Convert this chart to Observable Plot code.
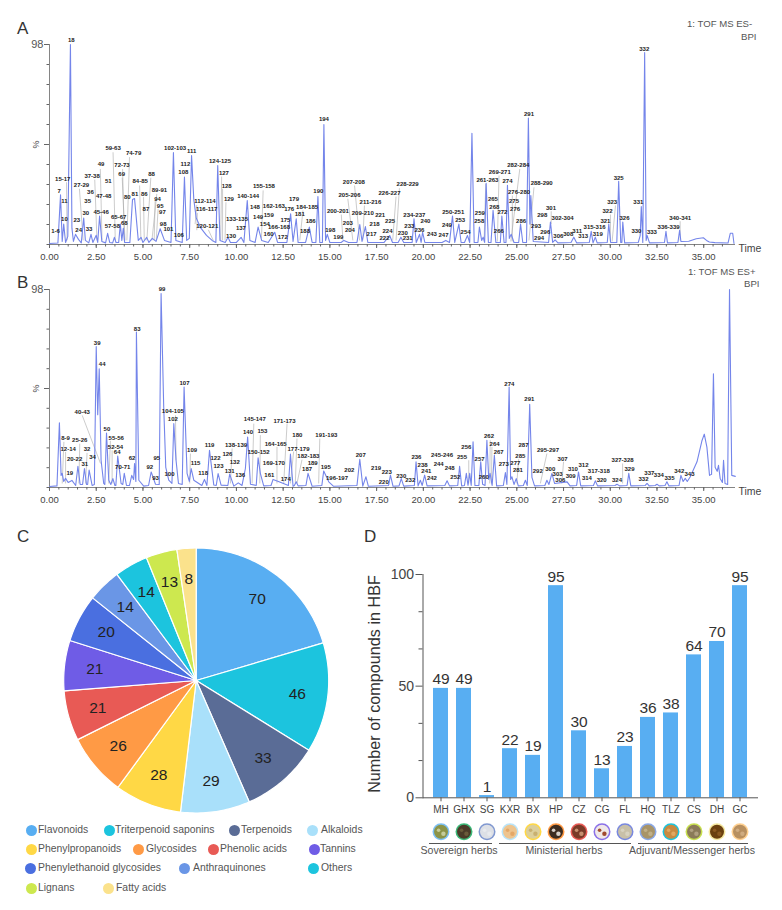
<!DOCTYPE html>
<html>
<head>
<meta charset="utf-8">
<script src="https://cdn.jsdelivr.net/npm/d3@7"></script>
<script src="https://cdn.jsdelivr.net/npm/@observablehq/plot@0.6"></script>
<style>
  html, body { margin: 0; background: #fff; }
  #page { position: relative; width: 782px; height: 910px; overflow: hidden; font-family: "Liberation Sans", Arial, sans-serif; color: #333; }
  #page svg { position: absolute; background: none; overflow: visible; }
  .note { position: absolute; white-space: nowrap; }
</style>
</head>
<body>
<div id="page"></div>
<script>
// ----------------- data: chromatograms (time, % intensity) -----------------
const xTicks = [0, 2.5, 5, 7.5, 10, 12.5, 15, 17.5, 20, 22.5, 25, 27.5, 30, 32.5, 35];
const xMinor = d3.range(0, 36.5, 0.5);
const yMinor = [0, 9.8, 19.6, 29.4, 39.2, 49, 58.8, 68.6, 78.4, 88.2, 98];

const traceA = [[0,.5],[.45,.7],[.59,24.3],[.68,1.5],[.76,10],[.86,1],[.98,4],[1.12,98],[1.2,8],[1.28,1.5],[1.39,5],[1.55,2.5],[1.7,.8],[1.83,13],[1.92,2],[2.1,.8],[2.22,5],[2.32,1],[2.5,4.5],[2.58,1],[2.68,14],[2.8,1.5],[3,.8],[3.11,5.5],[3.22,1],[3.38,.8],[3.47,3.5],[3.56,1],[3.7,1],[3.79,10],[3.87,2],[3.95,8],[4.02,1],[4.3,1],[4.44,22],[4.55,22.5],[4.75,2],[4.9,3.5],[5,1],[5.2,3.5],[5.32,1],[5.5,3],[5.7,1.5],[5.92,7.7],[6.15,2],[6.5,1],[6.63,45],[6.76,2],[7.1,1],[7.22,33],[7.34,2],[7.48,3],[7.6,43.6],[7.72,22],[7.85,13],[8.1,8],[8.4,4.5],[8.7,2],[8.9,1],[9,38.7],[9.12,2],[9.4,1],[9.55,3.5],[9.68,1],[10,1],[10.25,3.5],[10.4,1],[10.58,21.5],[10.72,2],[11,1],[11.16,8.5],[11.35,2],[11.7,1],[12.05,6],[12.2,1],[12.7,1],[12.9,15],[13.03,1.5],[13.2,12.6],[13.3,1],[13.7,1],[13.9,8.5],[14.05,1],[14.25,1],[14.36,23.5],[14.46,1],[14.6,1],[14.68,58.8],[14.77,2],[14.86,5],[15,1],[15.6,1],[15.75,2],[16,1],[16.45,1],[16.6,9.8],[16.72,1.5],[16.9,8.8],[17.03,1],[17.9,1],[18.2,4.4],[18.35,1],[18.65,1],[18.8,3.6],[18.95,1],[19.4,1],[19.5,12.6],[19.62,1],[19.8,5],[19.88,1],[19.96,6],[20.08,1],[21,1],[21.2,2],[21.4,1],[21.56,14],[21.68,1],[21.9,10],[22.02,1],[22.2,1],[22.36,4.4],[22.48,1],[22.6,54.5],[22.72,1],[22.92,1],[23,8.5],[23.12,2],[23.2,3.6],[23.28,1],[23.36,30],[23.48,1],[23.62,1],[23.73,16.7],[23.88,1],[24.12,1],[24.2,14],[24.32,1],[24.42,1],[24.5,29],[24.6,3],[24.7,5],[24.85,1],[25.1,1],[25.2,10],[25.32,1],[25.52,1],[25.62,62],[25.7,10],[25.75,24],[25.88,1.5],[26.7,1],[26.8,11],[26.92,1],[27.05,2.3],[27.2,.8],[27.9,1],[28.05,3.6],[28.2,.8],[28.88,1],[28.98,6.5],[29.08,.8],[29.2,3.6],[29.3,.8],[29.84,1],[29.92,10],[30.02,1],[30.35,1],[30.45,31],[30.56,1],[30.62,1],[30.67,11],[30.77,.8],[31.5,1],[31.6,4.4],[31.66,18.6],[31.74,1],[31.84,94],[31.92,2],[31.97,4.4],[32.1,.8],[32.9,1],[32.98,6.5],[33.06,.8],[33.62,1],[33.71,7],[33.78,1.5],[34.2,1.6],[34.6,2.8],[34.98,3.3],[35.15,2],[35.3,1.2],[35.6,.9],[36.3,.7],[36.42,5.5],[36.55,5.5],[36.62,.5]];

const labelsA = [["1-6",.32,6.4],["7",.52,26.3],["15-17",.71,32.3],["11",.8,21.1],["10",.8,12.7],["18",1.17,100.1],["27-29",1.71,29.1],["23",1.46,11.8],["24",1.56,6.9],["37-38",2.28,33.6],["36",2.19,25.5],["35",2.04,21.2],["30",1.94,15.5],["33",2.12,7.8],["49",2.76,39.2],["47-48",2.9,23.7],["45-46",2.76,16],["51",3.15,31.2],["59-63",3.4,47.2],["57-58",3.36,9.1],["72-73",3.88,39],["69",3.86,34.6],["65-67",3.7,13.4],["68",4,10.6],["74-79",4.5,44.6],["80",4.16,23],["81",4.57,24.7],["86",5.07,24.7],["84-85",4.85,30.9],["87",5.16,17.6],["88",5.46,34.5],["89-91",5.88,26.8],["94",5.78,22.5],["95",5.92,18.9],["97",6.04,15.8],["98",6.08,10.1],["101",6.36,7.5],["106",6.92,4.4],["102-103",6.72,47.2],["111",7.61,46],["112",7.27,39.5],["108",7.16,35.4],["112-114",8.32,21.4],["116-117",8.41,17.3],["120-121",8.44,9],["124-125",9.12,41],["127",9.33,35.1],["128",9.48,28.7],["129",9.6,22.5],["133-135",10.03,12.7],["137",10.24,8.2],["130",9.71,4.2],["140-144",10.63,23.8],["155-158",11.47,28.4],["148",10.99,18.3],["149",11.16,13.6],["159",11.73,14.2],["154",11.52,10.1],["160",11.72,4.9],["162-163",12,18.8],["166-168",12.28,8.3],["172",12.48,3.6],["175",12.62,12.2],["176",12.82,17.3],["179",13.08,22.5],["181",13.39,14.9],["184-185",13.78,18.3],["186",13.97,11.3],["188",13.67,6.5],["190",14.38,26.3],["194",14.68,61.4],["198",15.02,7.3],["199",15.45,3.8],["200-201",15.43,16.5],["203",15.96,10.5],["204",16.07,6.9],["205-206",16.05,24.3],["207-208",16.28,30.5],["209-210",16.76,15.5],["211-216",17.17,20.9],["221",17.69,14.5],["218",17.39,10.1],["217",17.23,5.1],["226-227",18.19,25.3],["225",18.22,11.4],["224",18.08,6.7],["222",17.92,3.3],["228-229",19.16,29.4],["234-237",19.52,14.4],["233",19.25,9],["236",19.79,7.3],["240",20.11,11.6],["230",18.9,5.7],["231",19.16,3.3],["243",20.46,5.2],["247",21.08,4.7],["249",21.26,9.3],["250-251",21.6,16],["253",21.97,11.9],["254",22.26,6.2],["259",23.02,15.2],["258",22.99,11.4],["261-263",23.43,31.7],["265",23.72,22.5],["268",23.8,18.3],["269-271",24.09,35.6],["272",24.23,15.8],["266",24.04,6.7],["274",24.5,31.2],["282-284",25.08,39],["276-280",25.12,25.8],["275",24.85,21.2],["276",24.91,17.5],["286",25.23,11.6],["288-290",26.33,30],["291",25.65,64],["293",26.03,8.8],["294",26.19,3.3],["296",26.52,6],["298",26.36,14.2],["301",26.83,18],["302-304",27.45,13.1],["306",27.22,4.1],["308",27.75,5.2],["311",28.23,6.5],["313",28.55,4.1],["315-316",29.16,8.3],["319",29.33,4.9],["321",29.74,11.6],["322",29.85,16.2],["323",30.1,20.9],["325",30.45,32.7],["326",30.76,12.9],["330",31.4,6.5],["331",31.5,20.6],["332",31.82,95.9],["333",32.23,5.9],["336-339",33.12,8.3],["340-341",33.74,13.1]];

// leader lines: t1, v1, t2, v2
const leadersA = [[3.4,45.2,3.52,2],[.91,30.5,.94,2],[1.6,27.3,1.8,2],[2.42,31.8,2.54,2],[2.72,37,2.81,2],[3.91,37,4,2],[3.89,32.7,4.04,2],[4.28,42.8,4.14,2],[4.82,28.9,4.89,2],[5.03,23.2,5.07,2],[5.42,32.7,5.21,2],[5.74,24.8,5.48,2],[5.65,21.2,5.6,2],[5.81,17.3,5.71,2],[7.88,19.4,7.79,10],[7.91,15.5,7.88,7],[8.5,7.2,8.76,2],[9.21,33.3,9.16,2],[9.26,27.3,9.26,2],[9.44,20.7,9.39,2],[11.43,26.5,11.34,3],[13.56,16.7,13.39,2],[16.32,28.9,16.59,2],[15.96,22.4,16.23,2],[15.61,14.7,15.7,2],[16.85,19.1,16.76,2],[18.54,23.5,18.36,2],[18.72,27.6,18.54,2],[23.34,29.7,23.25,1.5],[24.05,33.8,23.96,1.5],[25.16,37,24.68,1.5],[24.76,24,24.76,1.5],[25.92,28,25.65,2],[30.28,19.1,30.1,1.5],[30.01,14.7,30.01,1.5],[33.74,11.4,33.74,2],[26.84,16.3,26.84,10]];

const traceB = [[0,.5],[.4,.8],[.53,32],[.62,6],[.68,7],[.76,3],[.86,4.5],[1,2.5],[1.2,3.5],[1.4,1],[1.52,10.5],[1.64,1.5],[1.77,1.5],[1.87,9.4],[1.98,1.5],[2.04,1.5],[2.12,8.6],[2.28,1],[2.4,1.5],[2.5,69.8],[2.58,36],[2.66,58.8],[2.76,13.5],[2.9,2],[2.96,1.5],[3.05,27],[3.17,3.6],[3.28,1.5],[3.39,4.4],[3.5,1],[3.55,1],[3.65,15.6],[3.83,2],[3.92,1.5],[4,7],[4.12,1],[4.28,1],[4.4,6],[4.5,4],[4.55,11.9],[4.62,3],[4.65,77],[4.78,3.6],[5.04,.7],[5.3,1],[5.44,7.7],[5.67,1.6],[5.87,1.5],[5.97,96],[6.11,40],[6.22,10],[6.38,3.6],[6.55,2],[6.65,31.6],[6.77,13.5],[6.9,2],[7.1,1.5],[7.2,49.7],[7.36,7],[7.48,3],[7.58,9.4],[7.72,3.6],[8.15,1],[8.29,4],[8.42,1],[8.56,18.4],[8.79,1.2],[8.92,1],[9.02,6.9],[9.18,1.2],[9.54,1],[9.64,6.6],[9.86,.7],[10.1,2.3],[10.3,1],[10.48,9.4],[10.6,25],[10.75,1.6],[11.06,1],[11.16,14.7],[11.28,7],[11.46,.8],[11.85,1],[11.96,4],[12.28,2.8],[12.78,1],[12.89,16.5],[13.03,.6],[13.1,1],[13.2,2.8],[13.3,.8],[13.72,1],[13.83,7],[14.05,.6],[14.57,1],[14.67,8.2],[14.94,2.8],[15.2,.6],[16.45,1],[16.6,14],[16.76,.7],[16.93,5.3],[17.06,.6],[18.14,1],[18.24,6.1],[18.38,.6],[18.7,.8],[18.82,4.4],[18.95,.7],[19.52,1],[19.61,12.7],[19.72,.8],[19.84,3.6],[19.94,1],[20.07,6.1],[20.2,.8],[21.15,1],[21.27,3.3],[21.4,.8],[21.84,1],[21.94,10.5],[22.05,.8],[22.2,1],[22.3,7],[22.39,1],[22.48,7],[22.56,1],[22.66,22.6],[22.76,1],[22.97,1],[23.07,12.7],[23.17,1.6],[23.3,1],[23.4,23.4],[23.5,4],[23.57,7],[23.68,1],[23.8,16],[23.92,.8],[24.28,1],[24.39,7.4],[24.47,1.5],[24.59,49.7],[24.67,4],[24.74,5.3],[24.85,1.5],[24.97,4.4],[25.08,.8],[25.35,1],[25.46,3.6],[25.56,1],[25.69,41.2],[25.81,5],[25.95,.8],[26.5,1],[26.61,3.6],[26.72,1.5],[26.88,7],[27.02,2],[27.69,2.8],[27.85,.8],[28.2,1],[28.3,7.7],[28.42,.8],[29.1,1],[29.2,3.3],[29.32,.8],[30.25,1],[30.36,1.6],[30.5,.8],[30.9,1],[30.99,7],[31.1,.8],[31.87,1],[31.97,2],[32.08,.8],[32.4,1],[32.5,1.6],[32.62,.8],[32.93,1],[33.03,2.8],[33.14,.8],[33.68,1],[33.78,6],[33.9,3],[34.01,4.5],[34.12,3],[34.28,5.3],[34.64,12.7],[34.9,23],[35.03,26.4],[35.17,20],[35.31,6],[35.42,6.5],[35.52,56.3],[35.61,10],[35.72,8],[35.79,11],[35.88,4.5],[36,2.5],[36.06,13.5],[36.14,2],[36.28,1.5],[36.38,98],[36.5,6],[36.69,5.5]];

const labelsB = [["99",6.02,98],["83",4.69,78.6],["39",2.55,71.6],["44",2.82,60.9],["107",7.22,51.7],["40-43",1.75,37.2],["50",3.07,28.8],["55-56",3.57,24.7],["52-54",3.53,19.9],["64",3.62,17.3],["70-71",3.92,9.9],["8-9",.86,24.4],["12-14",1,19.1],["25-26",1.62,23.6],["32",2.01,19.1],["34",2.3,15.3],["20-22",1.34,14],["31",1.89,11.7],["19",1.09,7.2],["62",4.42,14.5],["92",5.37,9.9],["95",5.74,14.7],["93",5.67,4.9],["100",6.42,6.8],["104-105",6.6,37.9],["102",6.6,34.1],["109",7.63,18.4],["115",7.81,11.9],["118",8.22,6.9],["119",8.56,20.9],["122",8.88,14.8],["123",9.04,10.5],["126",9.52,16.6],["138-139",9.98,21.1],["132",9.91,12.7],["131",9.64,8.2],["136",10.2,6.1],["140",10.62,27.3],["145-147",10.98,33.8],["153",11.39,27.7],["150-152",11.19,17.5],["164-165",12.1,21.7],["169-170",12,12.2],["161",11.76,6.1],["171-173",12.57,32.9],["174",12.64,4.4],["180",13.26,25.9],["177-179",13.32,18.9],["182-183",13.85,15.6],["189",14.08,12.2],["187",13.78,9.1],["191-193",14.81,26],["195",14.78,10],["196-197",15.38,4.9],["202",16.04,8.4],["207",16.65,16.1],["219",17.47,9.4],["223",18.04,7.4],["220",17.88,2.8],["230",18.82,5.8],["232",19.3,3.6],["236",19.63,15],["238",19.96,10.9],["241",20.16,8.1],["242",20.46,4.9],["245-246",21,16],["244",20.82,11.4],["248",21.41,9.7],["252",21.71,5.3],["255",22.07,15.2],["256",22.3,19.8],["257",23.01,14.3],["260",23.23,5.1],["262",23.51,25.5],["264",23.81,21.7],["267",24.03,17.5],["273",24.3,11.4],["274",24.6,51.1],["277",24.92,11.9],["285",25.19,15.6],["287",25.36,20.9],["281",25.06,8.4],["291",25.67,43.6],["292",26.12,8.2],["295-297",26.67,18.6],["300",26.79,9.1],["303",27.18,6.8],["306",27.33,3.6],["307",27.45,14.3],["309",27.88,5.8],["310",28,9.2],["312",28.57,11.2],["314",28.75,4.6],["317-318",29.39,8.1],["320",29.54,3.6],["324",30.36,3.5],["327-328",30.66,13.7],["329",31.03,8.9],["332",31.78,4.1],["337",32.09,7.2],["334",32.6,6.3],["335",33.17,4.8],["342",33.69,8.1],["343",34.24,6.4]];

const leadersB = [[1.75,35.7,2.73,11.9],[.77,22.6,.68,2],[.86,17.6,.86,2],[1.62,21.7,1.57,2],[2.01,17.1,1.93,2],[3.26,23.1,3.17,2],[3.35,18.4,3.35,2],[6.74,35.7,6.77,13.5],[7.54,16.8,7.5,2],[9.77,19.3,9.68,2],[10.93,31.6,10.84,2],[11.28,25.9,11.25,2],[12.17,20.1,12.17,2],[12.71,31.6,12.53,2],[13.24,24.2,13.15,2],[13.06,17.8,12.89,2],[13.51,13.8,13.24,2],[14.46,24.2,14.4,2],[26.61,16.8,26.26,2],[22.43,13.5,22.43,2],[23.58,23.4,23.55,2],[23.67,20.1,23.64,2],[27.5,12.7,27.41,2],[30.66,11.9,30.66,2],[25.1,14,25,2]];

// ----------------- data: pie -----------------
const pieNames = ["Flavonoids", "Triterpenoid saponins", "Terpenoids", "Alkaloids", "Phenylpropanoids", "Glycosides", "Phenolic acids", "Tannins", "Phenylethanoid glycosides", "Anthraquinones", "Others", "Lignans", "Fatty acids"];
const pieValues = [70, 46, 33, 29, 28, 26, 21, 21, 20, 14, 14, 13, 8];
const pieColors = ["#58aef2", "#1cc4de", "#5a6c96", "#a9e0fa", "#ffd845", "#ff9a45", "#e85a55", "#6f5ce6", "#4a6fe0", "#6a96e6", "#1cc4de", "#cde84f", "#fbe28c"];
// legend spot of each name: dot x, text x, row y (px on the page)
const legendSpots = [[31,38,830],[109,115,830],[234,241,830],[312,321,830],[31,38,849],[138,146,849],[213,220,849],[314,320,849],[30,38,868],[184,193,868],[313,321,868],[31,38,888],[108,116,888]];

// ----------------- data: bars -----------------
const herbs = ["MH", "GHX", "SG", "KXR", "BX", "HP", "CZ", "CG", "FL", "HQ", "TLZ", "CS", "DH", "GC"];
const herbCounts = [49, 49, 1, 22, 19, 95, 30, 13, 23, 36, 38, 64, 70, 95];
const herbRing = ["#7cc0f5", "#3cb878", "#8098d0", "#b8e4fa", "#ffd845", "#ff9a45", "#e85a55", "#8a70e8", "#7888e0", "#8aa8e8", "#1cc4de", "#c8e050", "#f5e8a0", "#ffd090"];
const herbFill = ["#8c9448", "#4a3a28", "#dde0e6", "#eec48e", "#dccf9c", "#3d2c20", "#7a3a28", "#f0e8e8", "#c8c0a8", "#a89468", "#c88a40", "#8a7a58", "#6a4010", "#b89060"];
const herbSpeck = ["#c4cc9a", "#6a5a3a", "#e8eaee", "#e4a868", "#c8b070", "#d8d0c8", "#c89070", "#a04a30", "#d8d2c0", "#c0b088", "#e0a860", "#b0a080", "#8a5820", "#d0ac80"];
const groupNames = ["Sovereign herbs", "Ministerial herbs", "Adjuvant/Messenger herbs"];
const groupLines = [[429, 492], [499, 631], [638, 748]];
const groupCenters = [459, 564, 692];

// --------------- helpers -----------------
const page = document.getElementById("page");
function note(text, x, y, size, extra){
  const el = document.createElement("div");
  el.className = "note";
  el.textContent = text;
  el.style.cssText += `left:${x}px;top:${y}px;font-size:${size}px;transform:translateY(-50%);${extra || ""}`;
  page.appendChild(el);
}
function place(fig, left, top){
  fig.style.left = left + "px";
  fig.style.top = top + "px";
  page.appendChild(fig);
}
const font = '"Liberation Sans", Arial, sans-serif';

// ---------- A, B: chromatograms ----------
function chromatogram(trace, labels, leaders, height, marginTop, marginBottom){
  return Plot.plot({
    width: 782, height, marginLeft: 49, marginRight: 47, marginTop, marginBottom,
    style: { fontFamily: font },
    x: { domain: [0, 36.7] },
    y: { domain: [0, 98] },
    marks: [
      // fill none: ticks only, no text
      Plot.axisX(xMinor, { tickSize: 2.5, fill: "none", stroke: "#666", label: null }),
      Plot.axisX(xTicks, { tickSize: 4, tickPadding: 5, tickFormat: d => d.toFixed(2), fontSize: 9.5, fill: "#444", stroke: "#666", label: null }),
      Plot.axisY(yMinor, { tickSize: 2.5, fill: "none", stroke: "#666", label: null }),
      Plot.axisY([98], { tickSize: 5, tickPadding: 1, fontSize: 11, fill: "#555", stroke: "#666", label: null }),
      Plot.axisY([49], { tickSize: 5, fill: "none", stroke: "#666", label: null }),
      Plot.text(["%"], { x: () => 0, y: () => 49, dx: -13, rotate: -90, fontSize: 9, fill: "#444" }),
      Plot.ruleX([0], { stroke: "#666", strokeWidth: 0.8 }),
      Plot.ruleY([0], { stroke: "#666", strokeWidth: 0.8 }),
      Plot.link(leaders, { x1: "0", y1: "1", x2: "2", y2: "3", stroke: "#aaa", strokeWidth: 0.6 }),
      Plot.line(trace, { x: "0", y: "1", stroke: "#7485ea", strokeWidth: 1.1, curve: "linear" }),
      Plot.text(labels, { x: "1", y: "2", text: "0", fontSize: 6, fontWeight: 600, fill: "#222" }),
      Plot.text(["Time"], { x: () => 36.7, y: () => 0, dx: 3, dy: 4, textAnchor: "start", fontSize: 10.5, fill: "#444" })
    ]
  });
}
place(chromatogram(traceA, labelsA, leadersA, 275, 44, 31), 0, 0);
place(chromatogram(traceB, labelsB, leadersB, 260, 29, 33), 0, 260);

note("A", 17, 29, 17);
note("B", 17, 283, 17);
note("C", 17, 537, 17);
note("D", 364, 537, 17);
note("1: TOF MS ES-", 687, 23, 9.6, "color:#555");
note("BPI", 741, 36, 9.6, "color:#555");
note("1: TOF MS ES+", 688, 271, 9.6, "color:#555");
note("BPI", 744, 283, 9.6, "color:#555");

// ---------- C: pie, slices as closed lines on x/y scales ----------
const slices = d3.pie().sort(null)(pieValues);
const slicePoints = slices.flatMap((s, i) => {
  const steps = d3.range(s.startAngle, s.endAngle, 0.02).concat(s.endAngle);
  return [{ name: pieNames[i], x: 0, y: 0 }].concat(steps.map(a => ({ name: pieNames[i], x: Math.sin(a), y: Math.cos(a) })));
});
const sliceLabels = slices.map(s => {
  const mid = (s.startAngle + s.endAngle) / 2;
  return { value: s.value, x: 0.77 * Math.sin(mid), y: 0.77 * Math.cos(mid) };
});
place(Plot.plot({
  width: 370, height: 300, marginLeft: 63.2, marginRight: 41.8, marginTop: 27.5, marginBottom: 7.5,
  style: { fontFamily: font },
  x: { domain: [-1, 1], axis: null },
  y: { domain: [-1, 1], axis: null },
  color: { domain: pieNames, range: pieColors },
  marks: [
    Plot.line(slicePoints, { x: "x", y: "y", z: "name", fill: "name", stroke: "#fff", strokeWidth: 1.2, curve: "linear-closed" }),
    Plot.text(sliceLabels, { x: "x", y: "y", text: "value", fontSize: 15.5, fill: "#222" })
  ]
}), 0, 520);

pieNames.forEach((name, i) => {
  const [dotX, textX, rowY] = legendSpots[i];
  const dot = document.createElement("div");
  dot.style.cssText = `position:absolute;left:${dotX - 5.5}px;top:${rowY - 5.5}px;width:11px;height:11px;border-radius:50%;background:${pieColors[i]}`;
  page.appendChild(dot);
  note(name, textX, rowY - 1, 10.4, "color:#555");
});

// ---------- D: bars per herb ----------
const barRows = herbs.map((herb, i) => ({ herb, count: herbCounts[i] }));
place(Plot.plot({
  width: 422, height: 390, marginLeft: 62.5, marginRight: 25, marginTop: 54, marginBottom: 112.7,
  style: { fontFamily: font },
  x: { domain: herbs, padding: 0.33, label: null },
  y: { domain: [0, 100], label: null },
  marks: [
    Plot.barY(barRows, { x: "herb", y: "count", fill: "#58aef2" }),
    Plot.text(barRows, { x: "herb", y: "count", text: "count", dy: -9, fontSize: 15.5, fill: "#333" }),
    Plot.axisY([16.67, 33.33, 66.67, 83.33], { tickSize: 4, fill: "none", stroke: "#555", label: null }),
    Plot.axisY([0, 50, 100], { tickSize: 7, tickPadding: 2, fontSize: 14, fill: "#444", stroke: "#555", label: null }),
    Plot.axisX(herbs, { tickSize: 4, tickPadding: 4, fontSize: 10, fill: "#444", stroke: "#555", label: null }),
    Plot.frame({ anchor: "left", stroke: "#555" }),
    Plot.frame({ anchor: "bottom", stroke: "#555" }),
    Plot.dot(herbs, { x: d => d, y: () => 0, dy: 34, r: 8.5, fill: herbRing }),
    Plot.dot(herbs, { x: d => d, y: () => 0, dy: 34, r: 7, fill: herbFill }),
    Plot.dot(herbs, { x: d => d, y: () => 0, dx: -2.4, dy: 32.5, r: 1.8, fill: herbSpeck }),
    Plot.dot(herbs, { x: d => d, y: () => 0, dx: 2.4, dy: 36, r: 2.2, fill: herbSpeck })
  ]
}), 360, 520);

note("Number of compounds in HBF", 374, 684, 16.2, "color:#333;transform:translate(-50%,-50%) rotate(-90deg)");
groupNames.forEach((name, i) => {
  const [x1, x2] = groupLines[i];
  const line = document.createElement("div");
  line.style.cssText = `position:absolute;left:${x1}px;top:843px;width:${x2 - x1}px;height:1px;background:#555`;
  page.appendChild(line);
  note(name, groupCenters[i], 850, 10.6, "color:#555;transform:translate(-50%,-50%)");
});
</script>
</body>
</html>
